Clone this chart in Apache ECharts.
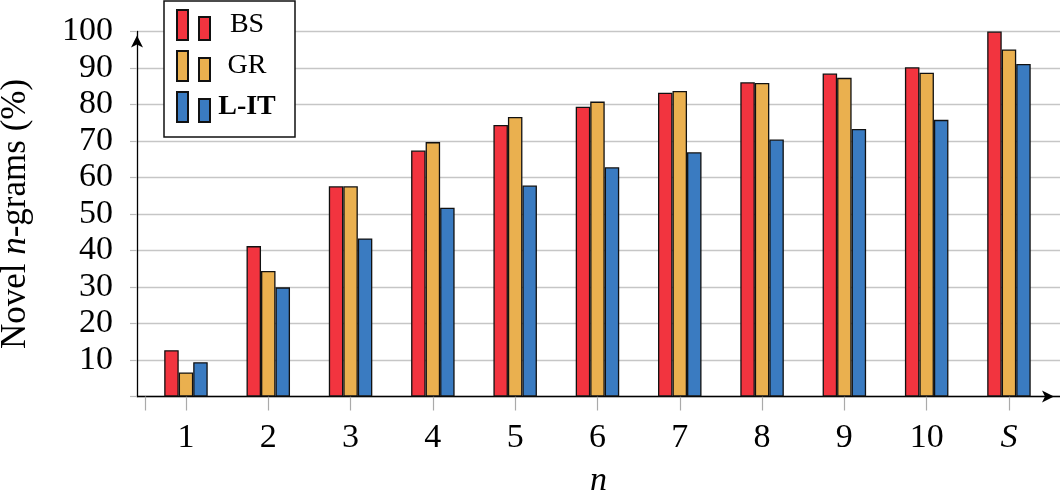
<!DOCTYPE html>
<html>
<head>
<meta charset="utf-8">
<script src="https://cdn.jsdelivr.net/npm/echarts@6/dist/echarts.min.js"></script>
<style>
html,body{margin:0;padding:0;background:#fff;}
#chart{width:1060px;height:491px;}
</style>
</head>
<body>
<div id="chart"></div>
<script>
const categories = ['1', '2', '3', '4', '5', '6', '7', '8', '9', '10', 'S'];
const seriesNames = ['BS', 'GR', 'L-IT'];
const bsValues  = [12.7, 41.2, 57.6, 67.4, 74.4, 79.4, 83.2, 86.1, 88.5, 90.2, 100];
const grValues  = [6.6, 34.4, 57.6, 69.7, 76.6, 80.8, 83.7, 85.9, 87.3, 88.7, 95.1];
const litValues = [9.4, 29.9, 43.3, 51.7, 57.8, 62.8, 66.9, 70.4, 73.3, 75.8, 91.1];
const colors = ['#F2343F', '#EAB04F', '#3A7BC1'];

const FONT = '"Liberation Serif", "DejaVu Serif", serif';
const chart = echarts.init(document.getElementById('chart'), null, {renderer: 'canvas'});

const labelPositions = categories.map((c, i) => i + 1);
const tickPositions = [0.5].concat(labelPositions);

function mk(name, vals, color) {
  return {
    name: name,
    type: 'bar',
    data: vals.map((v, i) => [i + 1, v]),
    barWidth: 14.5,
    barGap: '0%',
    itemStyle: {color: color, borderColor: '#111', borderWidth: 1.3},
    emphasis: {disabled: true},
    animation: false
  };
}

const option = {
  backgroundColor: '#fff',
  animation: false,
  grid: {left: 137, right: 0, top: 31.5, bottom: 94.5, containLabel: false, outerBoundsMode: 'none'},
  legend: {
    orient: 'vertical',
    left: 164,
    top: 1,
    padding: [8, 16, 14, 12],
    itemGap: 9,
    itemWidth: 33,
    itemHeight: 30,
    backgroundColor: '#fff',
    borderColor: '#111',
    borderWidth: 1.5,
    borderRadius: 0,
    icon: 'path://M0,0h11v30h-11zM22,7h11v23h-11z',
    data: seriesNames,
    formatter: function (n) { return n === 'L-IT' ? '{b|' + n + '}' : '{r|' + n + '}'; },
    textStyle: {
      fontFamily: FONT, fontSize: 28, color: '#000',
      rich: {
        r: {fontFamily: FONT, fontSize: 28, color: '#000', width: 64, align: 'center', lineHeight: 30},
        b: {fontFamily: FONT, fontSize: 28, color: '#000', width: 64, align: 'center', fontWeight: 'bold', lineHeight: 30}
      }
    }
  },
  xAxis: {
    type: 'value',
    min: 0.405,
    max: 0.405 + 923 / 82.3,
    name: 'n',
    nameLocation: 'middle',
    nameGap: 68,
    nameTextStyle: {fontFamily: FONT, fontSize: 34, fontStyle: 'italic', color: '#000'},
    axisLine: {show: true, lineStyle: {color: '#000', width: 1.3}, symbol: ['none', 'arrow'], symbolSize: [9, 12], symbolOffset: [0, -6]},
    axisTick: {show: true, length: 14, lineStyle: {color: '#aaa', width: 1.2}, customValues: tickPositions},
    axisLabel: {
      customValues: labelPositions,
      margin: 25,
      fontFamily: FONT, fontSize: 34, color: '#000',
      formatter: function (v) {
        const c = categories[Math.round(v) - 1];
        return c === 'S' ? '{i|S}' : c;
      },
      rich: {i: {fontFamily: FONT, fontSize: 34, fontStyle: 'italic', color: '#000'}}
    },
    splitLine: {show: false}
  },
  yAxis: {
    type: 'value',
    min: 0,
    max: 100,
    interval: 10,
    name: 'Novel {i|n}-grams (%)',
    nameLocation: 'middle',
    nameGap: 104,
    nameTextStyle: {
      fontFamily: FONT, fontSize: 35, color: '#000',
      rich: {i: {fontFamily: FONT, fontSize: 35, fontStyle: 'italic', color: '#000'}}
    },
    axisLine: {show: true, lineStyle: {color: '#000', width: 1.3}, symbol: ['none', 'arrow'], symbolSize: [9, 12], symbolOffset: [0, -4]},
    axisTick: {show: true, length: 7, lineStyle: {color: '#bbb', width: 1.2}},
    axisLabel: {
      margin: 24,
      fontFamily: FONT, fontSize: 34, color: '#000',
      formatter: function (v) { return v === 0 ? '' : String(v); }
    },
    splitLine: {show: true, lineStyle: {color: '#c6c6c6', width: 1.4}}
  },
  series: [
    mk(seriesNames[0], bsValues, colors[0]),
    mk(seriesNames[1], grValues, colors[1]),
    mk(seriesNames[2], litValues, colors[2])
  ]
};
chart.setOption(option);
</script>
</body>
</html>
